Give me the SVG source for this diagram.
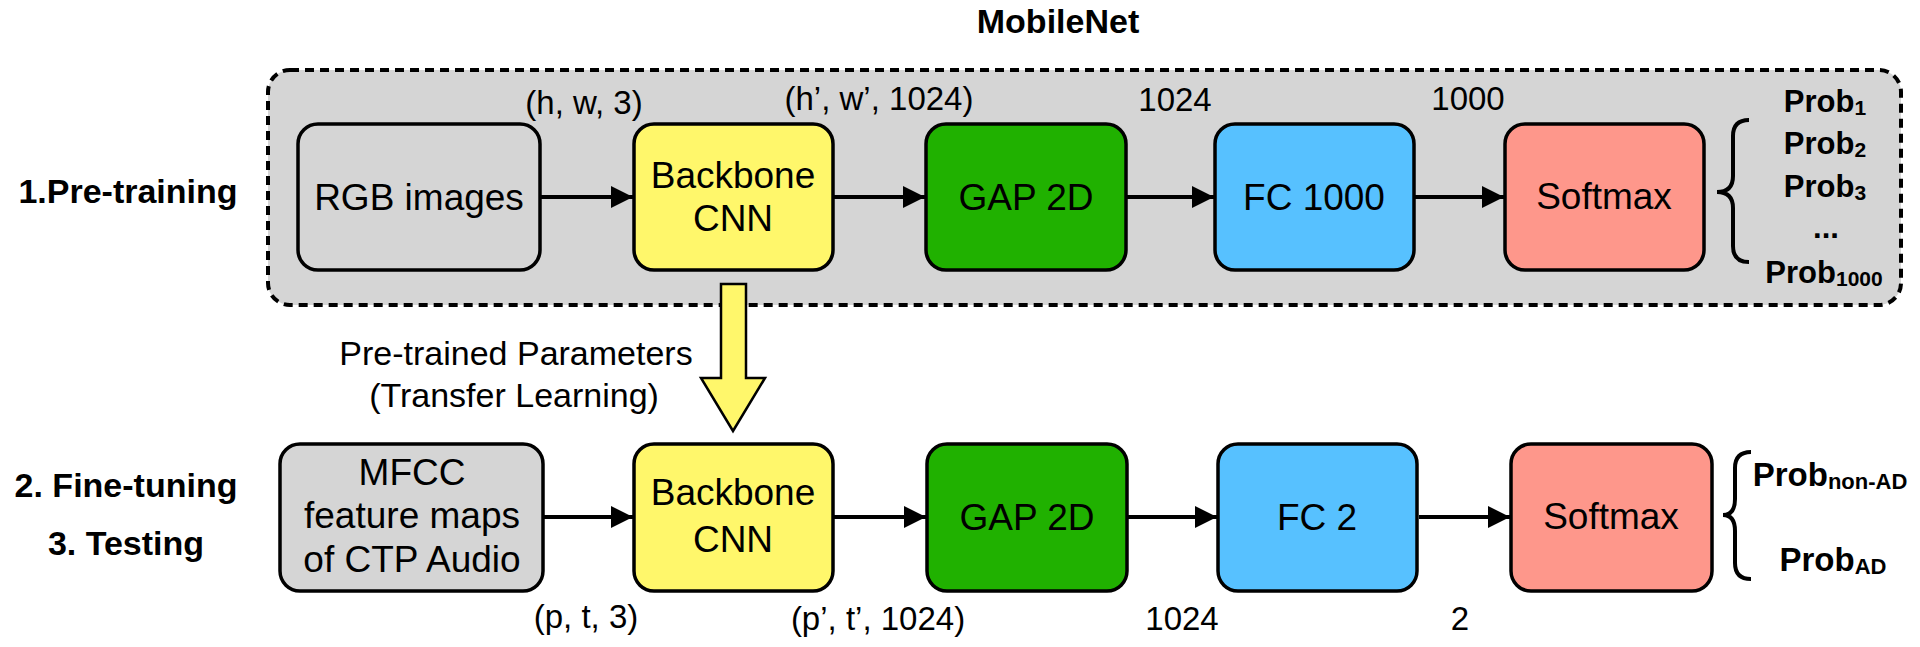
<svg xmlns="http://www.w3.org/2000/svg" width="1920" height="647" viewBox="0 0 1920 647">
<defs>
<marker id="ah" markerUnits="userSpaceOnUse" markerWidth="22" markerHeight="22" viewBox="0 0 20 20" refX="20" refY="10" orient="auto">
<path d="M0,0 L20,10 L0,20 Z" fill="#000"/>
</marker>
</defs>
<style>
.box{stroke:#000;stroke-width:3.5}
.lbl{font-family:"Liberation Sans",Arial,sans-serif;font-size:37px;fill:#000;text-anchor:middle}
.dim{font-family:"Liberation Sans",Arial,sans-serif;font-size:33px;fill:#000;text-anchor:middle}
.stage{font-family:"Liberation Sans",Arial,sans-serif;font-size:34px;font-weight:bold;fill:#000;text-anchor:middle}
.prob{font-family:"Liberation Sans",Arial,sans-serif;font-weight:bold;fill:#000;text-anchor:middle}
.conn{stroke:#000;stroke-width:4;fill:none;marker-end:url(#ah)}
.brace{stroke:#000;stroke-width:4;fill:none}
.grey{fill:#d5d5d5}.yellow{fill:#fff76b}.green{fill:#20b100}.blue{fill:#57c1ff}.red{fill:#fe978b}
</style>
<g id="mobilenet-container">
<rect x="268" y="70" width="1633" height="235" rx="22" fill="#d5d5d5" stroke="#000" stroke-width="4" stroke-dasharray="9 6"/>
<text class="stage" x="1058" y="33">MobileNet</text>
</g>
<g id="stage-labels">
<text class="stage" x="128" y="203">1.Pre-training</text>
<text class="stage" x="126" y="497">2. Fine-tuning</text>
<text class="stage" x="126" y="555">3. Testing</text>
</g>
<g id="rgb-images">
<rect class="box grey" x="298" y="124" width="242" height="146" rx="20"/>
<text class="lbl" x="419" y="210">RGB images</text>
</g>
<g id="backbone-top">
<rect class="box yellow" x="634" y="124" width="199" height="146" rx="20"/>
<text class="lbl" x="733" y="188">Backbone</text>
<text class="lbl" x="733" y="231">CNN</text>
</g>
<g id="gap-top">
<rect class="box green" x="926" y="124" width="200" height="146" rx="20"/>
<text class="lbl" x="1026" y="210">GAP 2D</text>
</g>
<g id="fc1000">
<rect class="box blue" x="1215" y="124" width="199" height="146" rx="20"/>
<text class="lbl" x="1314" y="210">FC 1000</text>
</g>
<g id="softmax-top">
<rect class="box red" x="1505" y="124" width="199" height="146" rx="20"/>
<text class="lbl" x="1604" y="209">Softmax</text>
</g>
<g id="probs-top">
<path class="brace" d="M1749 120 Q1733 120 1733 136 L1733 176 Q1733 192 1717 192 Q1733 192 1733 208 L1733 246 Q1733 262 1749 262"/>
<text class="prob" x="1825" y="112" font-size="31">Prob<tspan font-size="21" dy="3">1</tspan></text>
<text class="prob" x="1825" y="154" font-size="31">Prob<tspan font-size="21" dy="3">2</tspan></text>
<text class="prob" x="1825" y="197" font-size="31">Prob<tspan font-size="21" dy="3">3</tspan></text>
<text class="prob" x="1826" y="238" font-size="31">...</text>
<text class="prob" x="1824" y="283" font-size="31">Prob<tspan font-size="21" dy="3">1000</tspan></text>
</g>
<g id="mfcc">
<rect class="box grey" x="280" y="444" width="263" height="147" rx="20"/>
<text class="lbl" x="412" y="485">MFCC</text>
<text class="lbl" x="412" y="528">feature maps</text>
<text class="lbl" x="412" y="572">of CTP Audio</text>
</g>
<g id="backbone-bottom">
<rect class="box yellow" x="634" y="444" width="199" height="147" rx="20"/>
<text class="lbl" x="733" y="505">Backbone</text>
<text class="lbl" x="733" y="552">CNN</text>
</g>
<g id="gap-bottom">
<rect class="box green" x="927" y="444" width="200" height="147" rx="20"/>
<text class="lbl" x="1027" y="530">GAP 2D</text>
</g>
<g id="fc2">
<rect class="box blue" x="1218" y="444" width="199" height="147" rx="20"/>
<text class="lbl" x="1317" y="530">FC 2</text>
</g>
<g id="softmax-bottom">
<rect class="box red" x="1511" y="444" width="201" height="147" rx="20"/>
<text class="lbl" x="1611" y="529">Softmax</text>
</g>
<g id="probs-bottom">
<path class="brace" d="M1751 452 Q1735 452 1735 468 L1735 499 Q1735 515 1723 515 Q1735 515 1735 531 L1735 563 Q1735 579 1751 579"/>
<text class="prob" x="1830" y="486" font-size="33">Prob<tspan font-size="22" dy="3">non-AD</tspan></text>
<text class="prob" x="1833" y="571" font-size="33">Prob<tspan font-size="22" dy="3">AD</tspan></text>
</g>
<g id="dimension-labels">
<text class="dim" x="584" y="114">(h, w, 3)</text>
<text class="dim" x="879" y="110">(h’, w’, 1024)</text>
<text class="dim" x="1175" y="111">1024</text>
<text class="dim" x="1468" y="110">1000</text>
<text class="dim" x="586" y="628">(p, t, 3)</text>
<text class="dim" x="878" y="630">(p’, t’, 1024)</text>
<text class="dim" x="1182" y="630">1024</text>
<text class="dim" x="1460" y="630">2</text>
</g>
<g id="connectors">
<line class="conn" x1="540" y1="197" x2="633" y2="197"/>
<line class="conn" x1="833" y1="197" x2="925" y2="197"/>
<line class="conn" x1="1126" y1="197" x2="1214" y2="197"/>
<line class="conn" x1="1414" y1="197" x2="1504" y2="197"/>
<line class="conn" x1="543" y1="517" x2="633" y2="517"/>
<line class="conn" x1="833" y1="517" x2="926" y2="517"/>
<line class="conn" x1="1127" y1="517" x2="1217" y2="517"/>
<line class="conn" x1="1419" y1="517" x2="1510" y2="517"/>
</g>
<g id="transfer">
<polygon points="721,284 746,284 746,378 765,378 733,431 701,378 721,378" fill="#fff76b" stroke="#000" stroke-width="2.5" stroke-linejoin="miter"/>
<text class="dim" x="516" y="365" style="font-size:34px">Pre-trained Parameters</text>
<text class="dim" x="514" y="407" style="font-size:34px">(Transfer Learning)</text>
</g>
</svg>
